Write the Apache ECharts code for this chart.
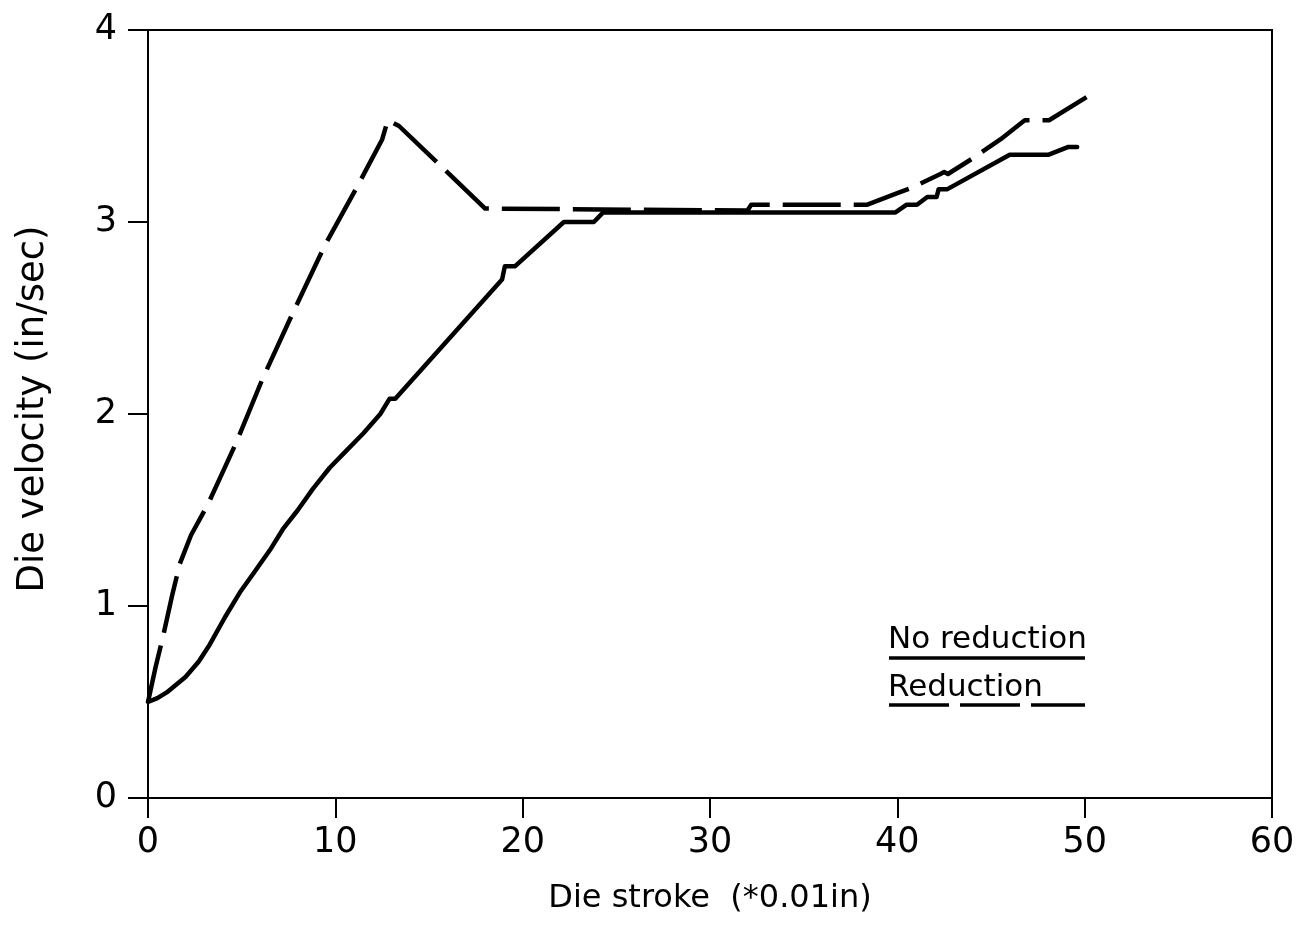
<!DOCTYPE html>
<html>
<head>
<meta charset="utf-8">
<script src="https://cdn.jsdelivr.net/npm/echarts@6/dist/echarts.min.js"></script>
<style>html,body{margin:0;padding:0;background:#fff;}#c{width:1298px;height:931px;}</style>
</head>
<body>
<div id="c"></div>
<script>
// Data
var xTicks = [0, 10, 20, 30, 40, 50, 60];
var yTicks = [0, 1, 2, 3, 4];

var noReductionX = [0, 0.5, 1, 1.5, 2, 2.7, 3.3, 4.1, 4.9, 5.7, 6.5, 7.2, 8.0, 8.8, 9.7, 10.5, 11.5, 12.4, 12.9, 13.2, 18.9, 19.05, 19.6, 22.2, 23.8, 24.3, 39.9, 40.5, 41.05, 41.6, 42.1, 42.2, 42.65, 46.0, 48.05, 49.1, 49.6];
var noReductionY = [0.50, 0.52, 0.55, 0.59, 0.63, 0.71, 0.80, 0.94, 1.07, 1.18, 1.29, 1.40, 1.50, 1.61, 1.72, 1.80, 1.90, 2.00, 2.08, 2.08, 2.70, 2.77, 2.77, 3.00, 3.00, 3.05, 3.05, 3.09, 3.09, 3.13, 3.13, 3.17, 3.17, 3.35, 3.35, 3.39, 3.39];

var reductionX = [0, 0.4, 0.8, 1.3, 1.7, 2.3, 3.2, 4.0, 4.75, 6.1, 7.7, 9.45, 11.2, 12.5, 12.8, 13.4, 18.0, 32.0, 32.2, 38.4, 40.0, 40.8, 42.3, 42.5, 42.7, 44.0, 45.5, 46.8, 48.1, 50.1];
var reductionY = [0.50, 0.68, 0.84, 1.06, 1.22, 1.37, 1.53, 1.70, 1.86, 2.18, 2.52, 2.88, 3.19, 3.43, 3.53, 3.50, 3.07, 3.06, 3.09, 3.09, 3.15, 3.18, 3.25, 3.26, 3.25, 3.33, 3.43, 3.53, 3.53, 3.65];

var seriesNames = ['No reduction', 'Reduction'];

function zip(xs, ys) { return xs.map(function (x, i) { return [x, ys[i]]; }); }

var FONT = 'DejaVu Sans';
var chart = echarts.init(document.getElementById('c'), null, { renderer: 'canvas' });
chart.setOption({
  backgroundColor: '#fff',
  animation: false,
  grid: { left: 148, right: 26, top: 30, bottom: 133, show: true, borderColor: '#000', borderWidth: 2, backgroundColor: 'transparent' },
  xAxis: {
    type: 'value', min: xTicks[0], max: xTicks[xTicks.length - 1], interval: 10,
    name: 'Die stroke  (*0.01in)', nameLocation: 'middle', nameGap: 85,
    nameTextStyle: { fontFamily: FONT, fontSize: 32, color: '#000' },
    axisLine: { show: true, lineStyle: { color: '#000', width: 2 } },
    axisTick: { show: true, inside: false, length: 20, lineStyle: { color: '#000', width: 2 } },
    axisLabel: { fontFamily: FONT, fontSize: 35, color: '#000', margin: 27 },
    splitLine: { show: false }
  },
  yAxis: {
    type: 'value', min: yTicks[0], max: yTicks[yTicks.length - 1], interval: 1,
    name: 'Die velocity (in/sec)', nameLocation: 'middle', nameGap: 96,
    nameTextStyle: { fontFamily: FONT, fontSize: 37, color: '#000', padding: [0, 0, 0, 10] },
    axisLine: { show: true, lineStyle: { color: '#000', width: 2 } },
    axisTick: { show: true, inside: false, length: 20, lineStyle: { color: '#000', width: 2 } },
    axisLabel: { fontFamily: FONT, fontSize: 35, color: '#000', margin: 31 },
    splitLine: { show: false }
  },
  series: [
    {
      name: seriesNames[0], type: 'line', data: zip(noReductionX, noReductionY),
      showSymbol: false, symbol: 'none',
      lineStyle: { color: '#000', width: 4.5, cap: 'round', join: 'round' }
    },
    {
      name: seriesNames[1], type: 'line', data: zip(reductionX, reductionY),
      showSymbol: false, symbol: 'none',
      lineStyle: { color: '#000', width: 4.5, type: [58, 13], cap: 'butt', join: 'round' }
    }
  ],
  graphic: [
    { type: 'text', left: 888, top: 624, style: { text: seriesNames[0], font: '31px "DejaVu Sans"', fill: '#000' } },
    { type: 'line', shape: { x1: 889, y1: 658, x2: 1085, y2: 658 }, style: { stroke: '#000', lineWidth: 3.5 } },
    { type: 'text', left: 888, top: 672, style: { text: seriesNames[1], font: '31px "DejaVu Sans"', fill: '#000' } },
    { type: 'line', shape: { x1: 889, y1: 705, x2: 1085, y2: 705 }, style: { stroke: '#000', lineWidth: 3.5, lineDash: [60, 11] } }
  ]
});
</script>
</body>
</html>
